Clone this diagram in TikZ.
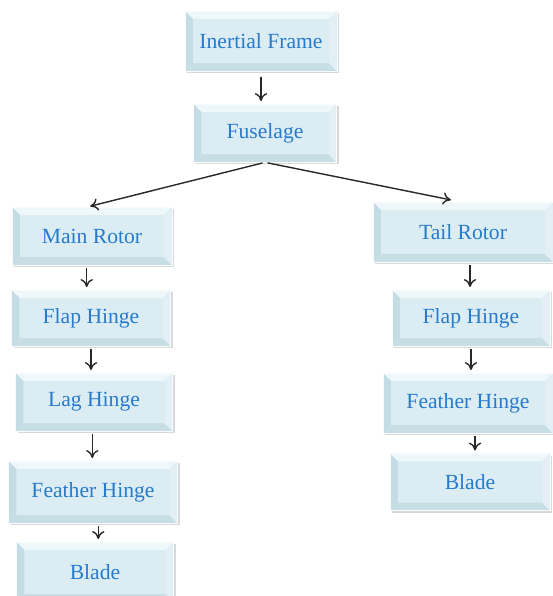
\documentclass[tikz,border=0pt]{standalone}
\usepackage{fontspec}
\setmainfont{Liberation Serif}
\usetikzlibrary{shadows,arrows.meta}

\definecolor{face}{RGB}{219,237,243}
\definecolor{bvtop}{RGB}{238,247,250}
\definecolor{bvleft}{RGB}{196,220,228}
\definecolor{bvbot}{RGB}{200,222,229}
\definecolor{bvright}{RGB}{226,240,245}
\definecolor{txtblue}{RGB}{40,122,204}
\definecolor{arr}{RGB}{40,40,40}

\newcommand{\bw}{4.5pt}

\tikzset{
  bevelbox/.style={fill=face, draw=white!80!face, line width=0.4pt, inner sep=0pt, minimum height=58*0.02cm,
    text=txtblue, font=\fontsize{12.3}{14}\selectfont,
    drop shadow={shadow xshift=1.3pt, shadow yshift=-1.3pt, opacity=0.3},
    path picture={
      \fill[bvtop] (path picture bounding box.north west) -- (path picture bounding box.north east)
        -- ([xshift=-\bw,yshift=-\bw]path picture bounding box.north east)
        -- ([xshift=\bw,yshift=-\bw]path picture bounding box.north west) -- cycle;
      \fill[bvleft] (path picture bounding box.north west) -- (path picture bounding box.south west)
        -- ([xshift=\bw,yshift=\bw]path picture bounding box.south west)
        -- ([xshift=\bw,yshift=-\bw]path picture bounding box.north west) -- cycle;
      \fill[bvbot] (path picture bounding box.south west) -- (path picture bounding box.south east)
        -- ([xshift=-\bw,yshift=\bw]path picture bounding box.south east)
        -- ([xshift=\bw,yshift=\bw]path picture bounding box.south west) -- cycle;
      \fill[bvright] (path picture bounding box.north east) -- (path picture bounding box.south east)
        -- ([xshift=-\bw,yshift=\bw]path picture bounding box.south east)
        -- ([xshift=-\bw,yshift=-\bw]path picture bounding box.north east) -- cycle;
    }},
  link/.style={draw=arr, line width=0.8pt, -{To[length=4.5pt,width=7pt]}, shorten <=1.5pt, shorten >=1.5pt}
}

\begin{document}
\begin{tikzpicture}[x=0.02cm, y=-0.02cm]
    \useasboundingbox (0,0) rectangle (553,596);

    % top of the tree
    \node[bevelbox, minimum width=152*0.02cm, minimum height=60*0.02cm] (inertial) at (261,41) {Inertial Frame};
    \node[bevelbox, minimum width=143*0.02cm] (fuselage) at (265,133) {Fuselage};

    % main rotor branch
    \node[bevelbox, minimum width=160*0.02cm] (mainrotor) at (92,236) {Main Rotor};
    \node[bevelbox, minimum width=159*0.02cm, minimum height=56*0.02cm] (mflap) at (91,318) {Flap Hinge};
    \node[bevelbox, minimum width=157*0.02cm] (mlag) at (94,402) {Lag Hinge};
    \node[bevelbox, minimum width=169*0.02cm, minimum height=62*0.02cm] (mfeather) at (93,492) {Feather Hinge};
    \node[bevelbox, minimum width=157*0.02cm, minimum height=60*0.02cm] (mblade) at (95,572) {Blade};

    % tail rotor branch
    \node[bevelbox, minimum width=180*0.02cm, minimum height=60*0.02cm] (tailrotor) at (463,232) {Tail Rotor};
    \node[bevelbox, minimum width=158*0.02cm, minimum height=56*0.02cm] (tflap) at (471,318) {Flap Hinge};
    \node[bevelbox, minimum width=170*0.02cm, minimum height=60*0.02cm] (tfeather) at (468,403) {Feather Hinge};
    \node[bevelbox, minimum width=160*0.02cm, minimum height=57*0.02cm] (tblade) at (470,482) {Blade};

    \draw[link, shorten <=3pt] (inertial.south) -- (fuselage.north -| inertial.south);
    \draw[link, shorten >=1pt] (fuselage.south) -- ([xshift=-2pt]mainrotor.north);
    \draw[link, shorten >=5pt] (fuselage.south) -- ([xshift=-2pt]tailrotor.north);

    \draw[link] ([xshift=-3pt]mainrotor.south) -- ([xshift=-3pt]mainrotor.south |- mflap.north);
    \draw[link] (mflap.south) -- (mflap.south |- mlag.north);
    \draw[link] ([xshift=-1pt]mlag.south) -- ([xshift=-1pt]mlag.south |- mfeather.north);
    \draw[link] ([xshift=3pt]mfeather.south) -- ([xshift=3pt]mfeather.south |- mblade.north);

    \draw[link] ([xshift=4pt]tailrotor.south) -- ([xshift=4pt]tailrotor.south |- tflap.north);
    \draw[link] (tflap.south) -- (tflap.south |- tfeather.north);
    \draw[link] ([xshift=4pt]tfeather.south) -- ([xshift=4pt]tfeather.south |- tblade.north);
\end{tikzpicture}
\end{document}
